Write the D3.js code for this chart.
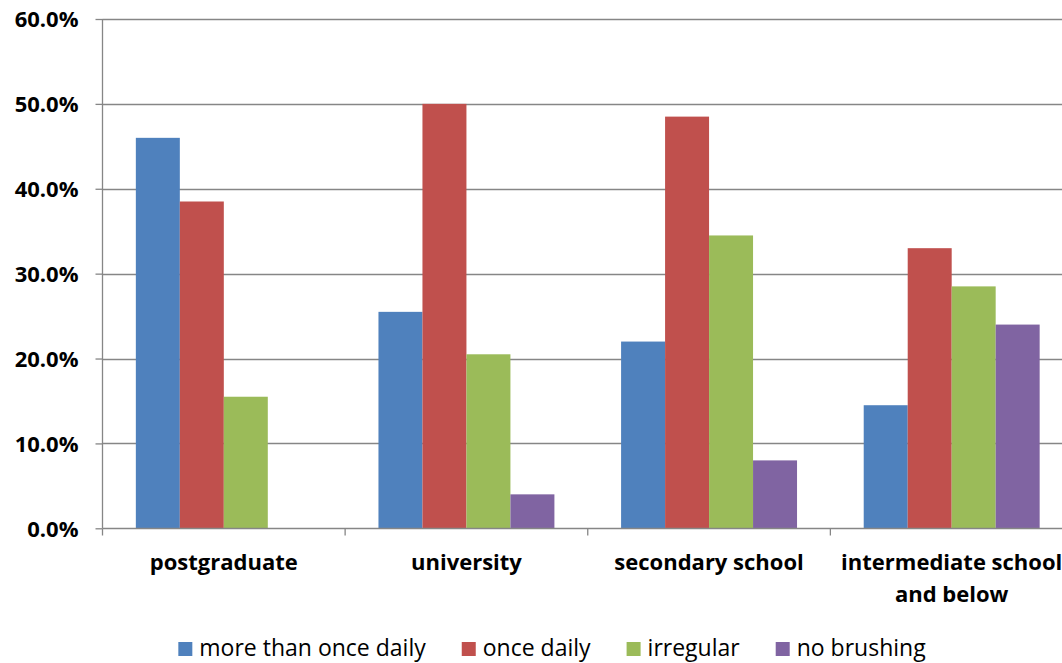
<!DOCTYPE html>
<html>
<head>
<meta charset="utf-8">
<script src="https://cdn.jsdelivr.net/npm/d3@7"></script>
<style>
  html, body { margin: 0; padding: 0; background: #fff; overflow: hidden; }
  svg { display: block; }
  text { font-family: "Open Sans", Lato, "Liberation Sans", sans-serif; fill: #000; }
</style>
</head>
<body>
<svg id="chart" width="1062" height="663"></svg>
<script>
const categories = ["postgraduate", "university", "secondary school", "intermediate school and below"];
const seriesNames = ["more than once daily", "once daily", "irregular", "no brushing"];
const moreThanOnceDaily = [46.0, 25.5, 22.0, 14.5];
const onceDaily = [38.5, 50.0, 48.5, 33.0];
const irregular = [15.5, 20.5, 34.5, 28.5];
const noBrushing = [0.0, 4.0, 8.0, 24.0];
const yTicks = [0, 10, 20, 30, 40, 50, 60];
const colors = ["#4F81BD", "#C0504D", "#9BBB59", "#8064A2"];

const seriesValues = [moreThanOnceDaily, onceDaily, irregular, noBrushing];
const FONT = "'Open Sans', Lato, 'Liberation Sans', sans-serif";

const svg = d3.select("#chart");
const plotLeft = 102.5, plotRight = 1073, plotTop = 19, plotBottom = 528.3;

const x0 = d3.scaleBand().domain(categories).range([plotLeft, plotRight]).padding(0);
const x1 = d3.scaleBand().domain(seriesNames).range([0, x0.bandwidth()])
  .paddingInner(0).paddingOuter(0.758);
const y = d3.scaleLinear().domain([0, 60]).range([plotBottom, plotTop]);

// gridlines
svg.append("g").selectAll("line").data(yTicks.filter(d => d > 0)).join("line")
  .attr("x1", plotLeft).attr("x2", plotRight)
  .attr("y1", d => Math.round(y(d)) + 0.5).attr("y2", d => Math.round(y(d)) + 0.5)
  .attr("stroke", "#868686").attr("stroke-width", 1.3);

// bars
const groups = svg.append("g").selectAll("g").data(categories).join("g")
  .attr("transform", d => `translate(${x0(d)},0)`);
groups.selectAll("rect")
  .data((c, i) => seriesNames.map((s, j) => ({ s, j, v: seriesValues[j][i] })))
  .join("rect")
  .attr("x", d => x1(d.s))
  .attr("width", x1.bandwidth())
  .attr("y", d => y(d.v))
  .attr("height", d => y(0) - y(d.v))
  .attr("fill", d => colors[d.j]);

// y axis
const yAxis = d3.axisLeft(y).tickValues(yTicks).tickSize(7)
  .tickFormat(d => d3.format(".1f")(d) + "%");
const ya = svg.append("g").attr("transform", `translate(${plotLeft},0)`).call(yAxis);
ya.attr("font-family", null).attr("font-size", null);
ya.select(".domain").attr("stroke", "#868686").attr("stroke-width", 1.3)
  .attr("d", `M0,${plotTop}V${plotBottom}`);
ya.selectAll(".tick line").attr("stroke", "#868686").attr("stroke-width", 1.3);
ya.selectAll(".tick text").attr("x", -24).attr("dy", "0.35em")
  .style("font-size", "22px").style("font-weight", "bold").attr("fill", "#000")
  .style("font-family", FONT);

// x axis
const xa = svg.append("g").attr("transform", `translate(0,${Math.round(plotBottom) + 0.5})`);
xa.append("line").attr("x1", plotLeft).attr("x2", plotRight)
  .attr("stroke", "#868686").attr("stroke-width", 1.3);
const bounds = categories.map(c => x0(c)).concat([plotRight]);
xa.selectAll(".xt").data(bounds).join("line").attr("class", "xt")
  .attr("x1", d => d).attr("x2", d => d).attr("y1", 0).attr("y2", 7)
  .attr("stroke", "#868686").attr("stroke-width", 1.3);

// category labels with wrapping
const labels = svg.append("g").selectAll("text").data(categories).join("text")
  .attr("x", d => x0(d) + x0.bandwidth() / 2)
  .attr("y", 570)
  .attr("text-anchor", "middle")
  .style("font-size", "22px").style("font-weight", "bold");
labels.each(function(d) {
  const t = d3.select(this);
  const words = d.split(" ");
  const maxW = x0.bandwidth() - 10;
  let line = [];
  let tspan = t.append("tspan").attr("x", t.attr("x")).attr("dy", 0);
  words.forEach(w => {
    line.push(w);
    tspan.text(line.join(" "));
    if (tspan.node().getComputedTextLength() > maxW && line.length > 1) {
      line.pop();
      tspan.text(line.join(" "));
      line = [w];
      tspan = t.append("tspan").attr("x", t.attr("x")).attr("dy", 32).text(w);
    }
  });
});

// legend
const legend = svg.append("g");
const items = legend.selectAll("g").data(seriesNames).join("g");
items.append("rect").attr("width", 14).attr("height", 14).attr("y", 642)
  .attr("fill", (d, i) => colors[i]);
items.append("text").attr("x", 21).attr("y", 656).text(d => d)
  .style("font-size", "23px");
const widths = [];
items.each(function() { widths.push(d3.select(this).select("text").node().getComputedTextLength()); });
const total = widths.reduce((a, w) => a + 21 + w, 0) + 36 * (widths.length - 1);
let start = 552 - total / 2;
items.attr("transform", (d, i) => {
  const tx = start;
  start += 21 + widths[i] + 36;
  return `translate(${tx},0)`;
});
</script>
</body>
</html>
